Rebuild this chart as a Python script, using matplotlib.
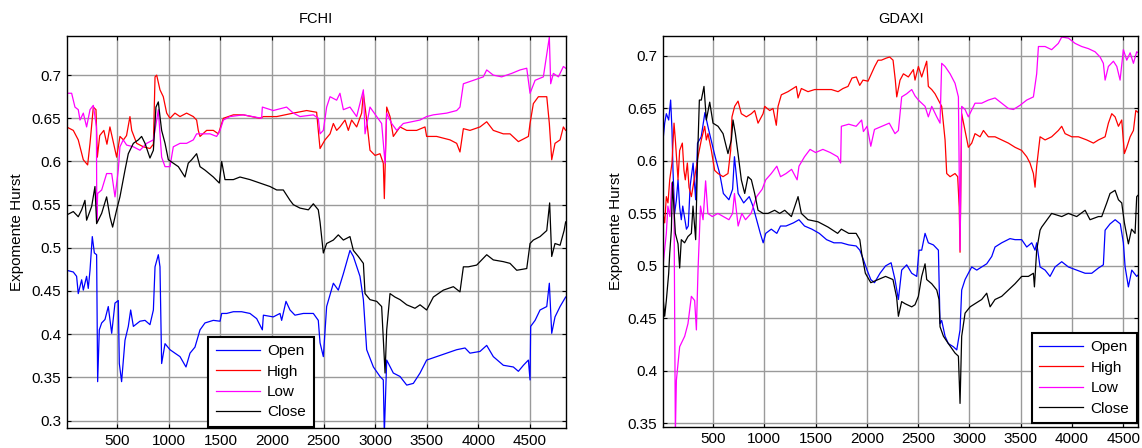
import numpy as np
import matplotlib
matplotlib.use('Agg')
import matplotlib.pyplot as plt
from matplotlib.ticker import FuncFormatter

plt.rcParams['font.family'] = ['Liberation Sans', 'DejaVu Sans']

# ---------------- FCHI ----------------
fchi_open_x = [10, 74, 106, 122, 155, 171, 203, 219, 236, 258, 278, 300, 310, 326, 349, 381, 413, 446, 478, 510,
               520, 542, 575, 607, 630, 656, 720, 769, 817, 850, 866, 898, 914, 930, 963, 1011, 1059, 1108, 1166, 1205,
               1253, 1302, 1350, 1431, 1496, 1512, 1560, 1625, 1705, 1786, 1851, 1906, 1916, 2012, 2077, 2093, 2135,
               2174, 2222, 2303, 2400, 2448, 2465, 2497, 2529, 2594, 2642, 2691, 2755, 2788, 2852, 2885, 2917, 2982,
               3046, 3078, 3088, 3111, 3175, 3240, 3305, 3369, 3434, 3498, 3595, 3692, 3789, 3870, 3918, 4015, 4080,
               4144, 4241, 4338, 4387, 4436, 4484, 4500, 4506, 4549, 4597, 4662, 4687, 4710, 4742, 4791, 4845]
fchi_open_y = [0.474, 0.472, 0.467, 0.447, 0.463, 0.451, 0.467, 0.453, 0.474, 0.513, 0.494, 0.492, 0.345, 0.405,
               0.413, 0.417, 0.432, 0.401, 0.436, 0.439, 0.366, 0.345, 0.393, 0.409, 0.428, 0.409, 0.415, 0.416,
               0.411, 0.428, 0.478, 0.492, 0.478, 0.366, 0.389, 0.382, 0.378, 0.374, 0.362, 0.378, 0.385, 0.405,
               0.413, 0.416, 0.415, 0.424, 0.424, 0.426, 0.426, 0.424, 0.418, 0.405, 0.422, 0.420, 0.424, 0.416,
               0.438, 0.428, 0.422, 0.424, 0.424, 0.416, 0.390, 0.374, 0.432, 0.459, 0.451, 0.470, 0.497, 0.490,
               0.467, 0.440, 0.382, 0.362, 0.351, 0.347, 0.285, 0.370, 0.355, 0.351, 0.341, 0.343, 0.355, 0.370,
               0.374, 0.378, 0.382, 0.384, 0.378, 0.380, 0.387, 0.374, 0.364, 0.362, 0.357, 0.364, 0.370, 0.347,
               0.409, 0.416, 0.428, 0.432, 0.459, 0.401, 0.420, 0.432, 0.443]

fchi_high_x = [9, 74, 122, 171, 213, 236, 268, 294, 307, 330, 370, 400, 429, 494, 526, 560, 590, 623, 640, 688, 753,
               817, 850, 866, 882, 914, 946, 979, 1011, 1059, 1108, 1172, 1237, 1269, 1285, 1302, 1366, 1431, 1480,
               1528, 1625, 1722, 1883, 1916, 2045, 2206, 2335, 2432, 2448, 2465, 2513, 2562, 2594, 2626, 2658, 2707,
               2739, 2771, 2820, 2868, 2885, 2917, 2949, 2998, 3046, 3078, 3088, 3111, 3143, 3175, 3240, 3305, 3401,
               3482, 3498, 3595, 3725, 3789, 3821, 3854, 3918, 4015, 4080, 4144, 4241, 4306, 4387, 4484, 4500, 4532,
               4581, 4629, 4662, 4687, 4710, 4742, 4791, 4823, 4845]
fchi_high_y = [0.640, 0.636, 0.625, 0.602, 0.596, 0.621, 0.663, 0.660, 0.605, 0.630, 0.636, 0.620, 0.640, 0.605,
               0.629, 0.625, 0.630, 0.652, 0.636, 0.621, 0.617, 0.615, 0.620, 0.698, 0.700, 0.683, 0.675, 0.656,
               0.650, 0.656, 0.652, 0.656, 0.652, 0.648, 0.636, 0.629, 0.636, 0.636, 0.632, 0.650, 0.654, 0.654,
               0.650, 0.652, 0.652, 0.656, 0.659, 0.657, 0.636, 0.615, 0.625, 0.632, 0.644, 0.636, 0.640, 0.648,
               0.636, 0.648, 0.640, 0.656, 0.679, 0.648, 0.613, 0.607, 0.609, 0.598, 0.557, 0.663, 0.652, 0.629,
               0.640, 0.636, 0.636, 0.640, 0.629, 0.629, 0.625, 0.621, 0.611, 0.638, 0.636, 0.640, 0.646, 0.636,
               0.632, 0.632, 0.623, 0.629, 0.644, 0.667, 0.675, 0.675, 0.675, 0.644, 0.602, 0.621, 0.625, 0.640,
               0.636]

fchi_low_x = [9, 58, 90, 122, 139, 171, 203, 236, 268, 284, 298, 302, 310, 349, 397, 446, 478, 510, 526, 558, 591,
              656, 720, 785, 850, 882, 898, 930, 963, 1011, 1043, 1108, 1172, 1237, 1269, 1334, 1399, 1463, 1496,
              1528, 1592, 1722, 1899, 1906, 2012, 2141, 2206, 2271, 2400, 2448, 2465, 2497, 2529, 2562, 2626, 2658,
              2691, 2755, 2820, 2885, 2901, 2949, 3014, 3062, 3095, 3111, 3159, 3208, 3272, 3434, 3498, 3563, 3692,
              3789, 3821, 3854, 3951, 4047, 4080, 4144, 4225, 4322, 4403, 4468, 4500, 4549, 4629, 4687, 4700, 4726,
              4775, 4823, 4845]
fchi_low_y = [0.679, 0.679, 0.663, 0.660, 0.648, 0.656, 0.640, 0.660, 0.665, 0.652, 0.640, 0.530, 0.563, 0.567,
              0.586, 0.586, 0.559, 0.590, 0.617, 0.625, 0.619, 0.617, 0.613, 0.621, 0.625, 0.648, 0.660, 0.605,
              0.594, 0.594, 0.617, 0.621, 0.621, 0.625, 0.632, 0.632, 0.632, 0.629, 0.636, 0.648, 0.652, 0.654,
              0.650, 0.663, 0.659, 0.663, 0.656, 0.652, 0.654, 0.650, 0.632, 0.636, 0.663, 0.675, 0.671, 0.679,
              0.660, 0.663, 0.652, 0.683, 0.632, 0.663, 0.652, 0.644, 0.598, 0.656, 0.644, 0.636, 0.644, 0.648,
              0.652, 0.654, 0.656, 0.659, 0.663, 0.690, 0.694, 0.698, 0.706, 0.700, 0.698, 0.702, 0.706, 0.708,
              0.679, 0.694, 0.698, 0.744, 0.690, 0.702, 0.698, 0.710, 0.708]

fchi_close_x = [9, 74, 122, 155, 187, 203, 252, 284, 300, 349, 397, 429, 455, 494, 526, 575, 607, 656, 704, 736,
                769, 817, 850, 875, 898, 914, 930, 963, 995, 1043, 1092, 1156, 1188, 1221, 1269, 1302, 1350, 1431,
                1489, 1512, 1544, 1625, 1689, 1786, 1883, 1980, 2045, 2109, 2174, 2206, 2271, 2352, 2400, 2448,
                2465, 2497, 2529, 2594, 2642, 2691, 2755, 2788, 2836, 2885, 2901, 2949, 3014, 3062, 3095, 3111,
                3143, 3191, 3240, 3305, 3385, 3434, 3498, 3563, 3660, 3757, 3821, 3854, 3902, 3983, 4080, 4144,
                4241, 4306, 4371, 4468, 4500, 4532, 4597, 4662, 4690, 4710, 4742, 4791, 4830, 4845]
fchi_close_y = [0.538, 0.542, 0.536, 0.544, 0.555, 0.532, 0.548, 0.571, 0.528, 0.540, 0.559, 0.536, 0.524, 0.544,
                0.559, 0.590, 0.609, 0.621, 0.625, 0.629, 0.621, 0.604, 0.613, 0.663, 0.669, 0.652, 0.636, 0.621,
                0.602, 0.598, 0.594, 0.582, 0.598, 0.602, 0.609, 0.594, 0.590, 0.582, 0.575, 0.600, 0.579, 0.579,
                0.582, 0.579, 0.575, 0.571, 0.567, 0.567, 0.555, 0.550, 0.546, 0.544, 0.551, 0.544, 0.530, 0.494,
                0.505, 0.509, 0.515, 0.509, 0.513, 0.497, 0.490, 0.482, 0.447, 0.440, 0.438, 0.432, 0.355, 0.405,
                0.447, 0.443, 0.440, 0.434, 0.430, 0.434, 0.428, 0.443, 0.451, 0.455, 0.449, 0.478, 0.478, 0.480,
                0.492, 0.486, 0.484, 0.482, 0.474, 0.476, 0.505, 0.509, 0.513, 0.520, 0.552, 0.490, 0.505, 0.503,
                0.520, 0.530]

# ---------------- GDAXI ----------------
gdaxi_open_x = [13, 29, 45, 68, 87, 100, 110, 126, 143, 159, 175, 191, 205, 241, 259, 277, 306, 331, 349, 385, 421,
                457, 511, 529, 565, 601, 655, 691, 709, 745, 799, 853, 889, 925, 961, 989, 1014, 1068, 1122, 1158,
                1212, 1284, 1338, 1392, 1464, 1536, 1607, 1679, 1751, 1823, 1895, 1931, 1966, 2002, 2038, 2074,
                2128, 2182, 2236, 2274, 2307, 2339, 2388, 2437, 2486, 2508, 2534, 2567, 2599, 2648, 2697, 2713,
                2729, 2762, 2794, 2843, 2876, 2908, 2924, 2957, 2989, 3022, 3071, 3119, 3168, 3217, 3249, 3314,
                3395, 3444, 3509, 3558, 3607, 3639, 3655, 3688, 3737, 3785, 3834, 3899, 3964, 4045, 4127, 4192,
                4257, 4305, 4322, 4370, 4420, 4470, 4500, 4517, 4549, 4582, 4630, 4660]
gdaxi_open_y = [0.620, 0.636, 0.645, 0.639, 0.658, 0.630, 0.591, 0.550, 0.563, 0.582, 0.556, 0.544, 0.557, 0.535,
                0.538, 0.576, 0.598, 0.563, 0.617, 0.623, 0.646, 0.630, 0.608, 0.601, 0.588, 0.569, 0.563, 0.573,
                0.604, 0.569, 0.560, 0.566, 0.557, 0.544, 0.531, 0.522, 0.531, 0.535, 0.531, 0.538, 0.538, 0.541,
                0.544, 0.538, 0.535, 0.531, 0.525, 0.522, 0.522, 0.520, 0.519, 0.515, 0.506, 0.496, 0.487, 0.484,
                0.493, 0.500, 0.503, 0.487, 0.468, 0.496, 0.501, 0.493, 0.490, 0.515, 0.515, 0.531, 0.522, 0.520,
                0.515, 0.445, 0.448, 0.433, 0.426, 0.423, 0.420, 0.439, 0.477, 0.487, 0.493, 0.499, 0.496, 0.499,
                0.502, 0.509, 0.518, 0.522, 0.526, 0.525, 0.525, 0.518, 0.522, 0.515, 0.522, 0.499, 0.496, 0.490,
                0.499, 0.504, 0.499, 0.496, 0.493, 0.493, 0.498, 0.501, 0.534, 0.540, 0.544, 0.540, 0.522, 0.499,
                0.480, 0.496, 0.490, 0.493]

gdaxi_high_x = [13, 29, 45, 61, 78, 100, 120, 133, 159, 175, 201, 217, 230, 250, 266, 289, 321, 354, 386, 419, 435,
                451, 484, 516, 549, 598, 646, 672, 685, 711, 744, 776, 825, 874, 906, 939, 988, 1004, 1053, 1085,
                1117, 1134, 1166, 1231, 1312, 1329, 1361, 1426, 1491, 1556, 1654, 1719, 1767, 1816, 1855, 1897,
                1930, 1962, 2011, 2076, 2109, 2141, 2190, 2222, 2255, 2277, 2291, 2323, 2356, 2404, 2453, 2469,
                2502, 2534, 2583, 2599, 2632, 2664, 2697, 2729, 2762, 2778, 2811, 2859, 2885, 2900, 2908, 2924,
                2957, 2989, 3022, 3054, 3103, 3136, 3184, 3249, 3314, 3379, 3444, 3509, 3558, 3590, 3623, 3639,
                3655, 3688, 3737, 3801, 3866, 3899, 3932, 3997, 4062, 4143, 4208, 4257, 4322, 4354, 4387, 4419,
                4452, 4484, 4510, 4533, 4566, 4598, 4621, 4660]
gdaxi_high_y = [0.550, 0.541, 0.566, 0.560, 0.582, 0.598, 0.636, 0.620, 0.582, 0.610, 0.617, 0.591, 0.582, 0.598,
                0.575, 0.566, 0.585, 0.604, 0.620, 0.633, 0.620, 0.626, 0.610, 0.591, 0.588, 0.585, 0.588, 0.610,
                0.642, 0.652, 0.657, 0.645, 0.642, 0.645, 0.648, 0.636, 0.645, 0.652, 0.648, 0.650, 0.634, 0.652,
                0.663, 0.666, 0.671, 0.660, 0.669, 0.666, 0.668, 0.668, 0.668, 0.666, 0.669, 0.671, 0.679, 0.680,
                0.672, 0.677, 0.676, 0.690, 0.696, 0.696, 0.698, 0.699, 0.696, 0.677, 0.661, 0.677, 0.683, 0.680,
                0.687, 0.677, 0.690, 0.680, 0.695, 0.671, 0.668, 0.664, 0.658, 0.652, 0.620, 0.588, 0.585, 0.588,
                0.585, 0.556, 0.513, 0.645, 0.629, 0.613, 0.617, 0.626, 0.623, 0.629, 0.623, 0.623, 0.620, 0.617,
                0.613, 0.610, 0.604, 0.598, 0.588, 0.575, 0.595, 0.623, 0.620, 0.623, 0.629, 0.633, 0.626, 0.623,
                0.623, 0.620, 0.617, 0.620, 0.623, 0.636, 0.645, 0.642, 0.633, 0.639, 0.607, 0.613, 0.623, 0.629,
                0.648, 0.645]

gdaxi_low_x = [13, 25, 45, 60, 80, 97, 110, 120, 133, 143, 175, 224, 256, 289, 321, 338, 354, 378, 403, 428, 450,
               493, 547, 601, 655, 691, 709, 745, 781, 817, 871, 925, 979, 1014, 1068, 1122, 1158, 1212, 1266, 1320,
               1338, 1392, 1446, 1500, 1571, 1643, 1715, 1744, 1751, 1823, 1895, 1949, 1966, 2002, 2038, 2074, 2146,
               2218, 2274, 2307, 2339, 2388, 2437, 2469, 2502, 2567, 2599, 2632, 2681, 2713, 2729, 2762, 2811, 2859,
               2892, 2908, 2924, 2957, 2989, 3054, 3119, 3184, 3249, 3314, 3379, 3428, 3493, 3558, 3623, 3655, 3672,
               3737, 3801, 3866, 3899, 3964, 4029, 4094, 4159, 4224, 4273, 4305, 4322, 4354, 4403, 4436, 4468, 4500,
               4533, 4566, 4598, 4630, 4660]
gdaxi_low_y = [0.500, 0.512, 0.531, 0.557, 0.547, 0.579, 0.575, 0.560, 0.340, 0.391, 0.423, 0.433, 0.445, 0.471,
               0.467, 0.439, 0.496, 0.557, 0.544, 0.581, 0.550, 0.547, 0.550, 0.547, 0.544, 0.550, 0.569, 0.538,
               0.550, 0.544, 0.550, 0.566, 0.573, 0.582, 0.588, 0.595, 0.585, 0.588, 0.592, 0.582, 0.595, 0.604,
               0.611, 0.608, 0.611, 0.608, 0.604, 0.598, 0.633, 0.635, 0.633, 0.639, 0.628, 0.633, 0.614, 0.630,
               0.633, 0.636, 0.626, 0.629, 0.661, 0.664, 0.668, 0.662, 0.658, 0.652, 0.642, 0.652, 0.642, 0.636,
               0.693, 0.690, 0.683, 0.674, 0.661, 0.515, 0.652, 0.649, 0.642, 0.655, 0.655, 0.658, 0.660, 0.655,
               0.650, 0.649, 0.653, 0.658, 0.661, 0.683, 0.709, 0.709, 0.706, 0.712, 0.718, 0.717, 0.712, 0.709,
               0.707, 0.704, 0.699, 0.693, 0.677, 0.690, 0.695, 0.690, 0.677, 0.706, 0.696, 0.703, 0.693, 0.704,
               0.702]

gdaxi_close_x = [13, 29, 45, 68, 78, 94, 105, 133, 159, 175, 191, 223, 256, 289, 305, 331, 349, 367, 386, 412, 435,
                 468, 500, 549, 598, 646, 679, 695, 718, 744, 776, 809, 841, 874, 906, 939, 988, 1036, 1101, 1150,
                 1199, 1264, 1329, 1361, 1426, 1524, 1621, 1715, 1751, 1823, 1895, 1931, 1949, 1985, 2038, 2110,
                 2182, 2254, 2290, 2307, 2339, 2372, 2437, 2469, 2502, 2534, 2567, 2583, 2632, 2681, 2703, 2713,
                 2746, 2794, 2859, 2892, 2908, 2924, 2957, 3006, 3054, 3119, 3168, 3201, 3249, 3314, 3379, 3444,
                 3509, 3574, 3623, 3633, 3655, 3688, 3704, 3801, 3899, 3964, 4045, 4127, 4175, 4257, 4289, 4338,
                 4370, 4419, 4452, 4484, 4510, 4549, 4580, 4614, 4630, 4660]
gdaxi_close_y = [0.470, 0.452, 0.467, 0.493, 0.512, 0.534, 0.580, 0.531, 0.521, 0.498, 0.525, 0.522, 0.528, 0.531,
                 0.557, 0.525, 0.601, 0.658, 0.658, 0.671, 0.639, 0.656, 0.636, 0.633, 0.626, 0.607, 0.620, 0.639,
                 0.626, 0.607, 0.582, 0.569, 0.585, 0.582, 0.569, 0.553, 0.550, 0.550, 0.553, 0.550, 0.553, 0.547,
                 0.566, 0.550, 0.544, 0.542, 0.537, 0.531, 0.535, 0.531, 0.531, 0.525, 0.512, 0.493, 0.484, 0.487,
                 0.490, 0.487, 0.470, 0.452, 0.466, 0.464, 0.461, 0.463, 0.471, 0.490, 0.502, 0.487, 0.483, 0.477,
                 0.468, 0.442, 0.433, 0.426, 0.417, 0.414, 0.369, 0.433, 0.455, 0.461, 0.464, 0.468, 0.474, 0.461,
                 0.468, 0.471, 0.477, 0.483, 0.490, 0.490, 0.493, 0.480, 0.515, 0.534, 0.537, 0.550, 0.547, 0.550,
                 0.547, 0.553, 0.544, 0.547, 0.547, 0.560, 0.569, 0.572, 0.563, 0.560, 0.541, 0.521, 0.535, 0.531,
                 0.566, 0.569]

labels = ['Open', 'High', 'Low', 'Close']
colors = ['#0000ff', '#ff0000', '#ff00ff', '#000000']

fig = plt.figure(figsize=(11.42, 4.48), dpi=100)
ax1 = fig.add_axes([0.0584, 0.044, 0.4370, 0.876])
ax2 = fig.add_axes([0.5806, 0.0475, 0.4162, 0.8728])

panels = [
    (ax1, 'FCHI', [(fchi_open_x, fchi_open_y), (fchi_high_x, fchi_high_y),
                   (fchi_low_x, fchi_low_y), (fchi_close_x, fchi_close_y)],
     (10, 4846), (0.291, 0.7455), np.arange(0.3, 0.701, 0.05)),
    (ax2, 'GDAXI', [(gdaxi_open_x, gdaxi_open_y), (gdaxi_high_x, gdaxi_high_y),
                    (gdaxi_low_x, gdaxi_low_y), (gdaxi_close_x, gdaxi_close_y)],
     (13, 4646), (0.3468, 0.7193), np.arange(0.35, 0.701, 0.05)),
]

fmt = FuncFormatter(lambda v, p: f'{v:g}')
for ax, title, series, xl, yl, yt in panels:
    for (xs, ys), lab, c in zip(series, labels, colors):
        ax.plot(xs, ys, color=c, lw=0.9, label=lab)
    ax.set_xlim(*xl)
    ax.set_ylim(*yl)
    ax.set_xticks(np.arange(500, 4501, 500))
    ax.set_yticks(np.round(yt, 2))
    ax.yaxis.set_major_formatter(fmt)
    ax.grid(True, color='#9a9a9a', lw=1.0)
    ax.set_axisbelow(True)
    ax.tick_params(direction='in', top=True, right=True, length=3, labelsize=11, pad=4)
    for s in ax.spines.values():
        s.set_linewidth(1.0)
    ax.set_title(title, fontsize=10.5, pad=9)
    ax.set_ylabel('Expomente Hurst', fontsize=11)
    ax.yaxis.set_label_coords(-0.085, 0.5)

leg_kw = dict(fancybox=False, edgecolor='k', framealpha=1, fontsize=11, borderaxespad=0,
              handlelength=2.9, handletextpad=0.45, labelspacing=0.42, borderpad=0.5)
l1 = ax1.legend(loc='lower left', bbox_to_anchor=(0.284, 0.003), **leg_kw)
l2 = ax2.legend(loc='lower right', bbox_to_anchor=(0.9966, 0.0087), **leg_kw)
for l in (l1, l2):
    l.get_frame().set_linewidth(1.5)

fig.savefig('out.png', dpi=100)
